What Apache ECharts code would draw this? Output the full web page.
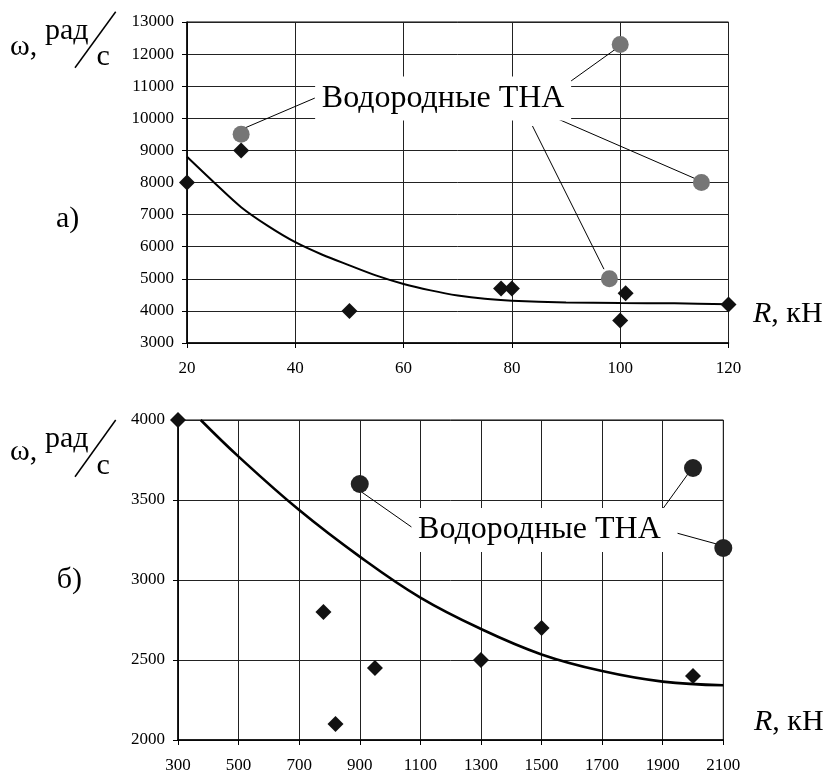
<!DOCTYPE html>
<html>
<head>
<meta charset="utf-8">
<script src="https://cdn.jsdelivr.net/npm/echarts@6/dist/echarts.min.js"></script>
<style>
html,body{margin:0;padding:0;background:#fff;}
#c{width:829px;height:775px;}
</style>
</head>
<body>
<div id="c"></div>
<script>
// ---- Chart a) ----
const topXTicks = [20, 40, 60, 80, 100, 120];
const topYTicks = [3000, 4000, 5000, 6000, 7000, 8000, 9000, 10000, 11000, 12000, 13000];
const topDiamondR = [20, 30, 50, 78, 80, 100, 101, 120];
const topDiamondW = [8000, 9000, 4000, 4700, 4700, 3700, 4550, 4200];
const topCircleR = [30, 98, 100, 115];
const topCircleW = [9500, 5000, 12300, 8000];
const topTrendR = [20, 25, 30, 35, 40, 45, 50, 55, 60, 65, 70, 75, 80, 90, 100, 110, 120];
const topTrendW = [8800, 8000, 7230, 6640, 6140, 5750, 5420, 5100, 4840, 4640, 4480, 4375, 4320, 4265, 4245, 4235, 4210];
const topLabelAt = [67.3, 10617];
const topLeaderFrom = [[30.7, 9700], [88.75, 10900], [88.6, 9970], [83.8, 9760]];
const topLeaderTo = [[43.6, 10630], [99.35, 12180], [114.4, 8080], [97.0, 5300]];

// ---- Chart б) ----
const botXTicks = [300, 500, 700, 900, 1100, 1300, 1500, 1700, 1900, 2100];
const botYTicks = [2000, 2500, 3000, 3500, 4000];
const botDiamondR = [300, 780, 820, 950, 1300, 1500, 2000];
const botDiamondW = [4000, 2800, 2100, 2450, 2500, 2700, 2400];
const botCircleR = [900, 2000, 2100];
const botCircleW = [3600, 3700, 3200];
const botTrendR = [375, 500, 700, 900, 1100, 1300, 1500, 1700, 1900, 2100];
const botTrendW = [4000, 3771, 3437, 3146, 2890, 2694, 2535, 2431, 2365, 2342];
const botLabelAt = [1493, 3312];
const botLeaderFrom = [[906, 3550], [1892, 3423], [1949, 3292]];
const botLeaderTo = [[1077, 3323], [1993, 3688], [2078, 3225]];

const labelText = 'Водородные ТНА';
const SERIF = '"Liberation Serif", "DejaVu Serif", serif';

function zip(a, b) { return a.map((v, i) => [v, b[i]]); }
function leaders(from, to) { return from.map((f, i) => [{ coord: f }, { coord: to[i] }]); }
const plain = v => String(v);

function xAx(gi, ticks, interval) {
  return {
    type: 'value', gridIndex: gi, min: ticks[0], max: ticks[ticks.length - 1], interval: interval,
    axisLine: { show: true, onZero: false, lineStyle: { color: '#000', width: 1.5 } },
    axisTick: { show: true, inside: false, length: 5, lineStyle: { color: '#000', width: 1 } },
    axisLabel: { fontSize: 17, fontFamily: SERIF, color: '#000', margin: 17, formatter: plain },
    splitLine: { show: true, lineStyle: { color: '#222', width: 1 } }
  };
}
function yAx(gi, ticks, interval) {
  return {
    type: 'value', gridIndex: gi, min: ticks[0], max: ticks[ticks.length - 1], interval: interval,
    axisLine: { show: true, onZero: false, lineStyle: { color: '#000', width: 1.5 } },
    axisTick: { show: true, inside: false, length: 5, lineStyle: { color: '#000', width: 1 } },
    axisLabel: { fontSize: 17, fontFamily: SERIF, color: '#000', margin: 13, formatter: plain },
    splitLine: { show: true, lineStyle: { color: '#222', width: 1 } }
  };
}

function annotate(labelAt, from, to) {
  return {
    markLine: {
      silent: true, animation: false, symbol: ['none', 'none'],
      label: { show: false },
      lineStyle: { type: 'solid', color: '#000', width: 1 },
      data: leaders(from, to)
    },
    markPoint: {
      silent: true, animation: false,
      symbol: 'rect', symbolSize: [256, 44],
      itemStyle: { color: '#fff' },
      label: { show: true, position: 'inside', formatter: labelText, color: '#000', fontSize: 32, fontFamily: SERIF },
      data: [{ coord: labelAt }]
    }
  };
}

const chart = echarts.init(document.getElementById('c'), null, { renderer: 'canvas' });

const topTrend = Object.assign({
  type: 'line', xAxisIndex: 0, yAxisIndex: 0, data: zip(topTrendR, topTrendW),
  showSymbol: false, symbol: 'none', smooth: 0.3,
  lineStyle: { color: '#000', width: 2 }, z: 3, silent: true
}, annotate(topLabelAt, topLeaderFrom, topLeaderTo));

const botTrend = Object.assign({
  type: 'line', xAxisIndex: 1, yAxisIndex: 1, data: zip(botTrendR, botTrendW),
  showSymbol: false, symbol: 'none', smooth: 0.4,
  lineStyle: { color: '#000', width: 2.6 }, z: 3, silent: true
}, annotate(botLabelAt, botLeaderFrom, botLeaderTo));

const ucStyle = { fill: '#000', font: '30px ' + SERIF, textVerticalAlign: 'middle' };
function txt(text, x, y) {
  return { type: 'text', style: Object.assign({ text: text, x: x, y: y }, ucStyle) };
}
function unitGroup(ω, p, c, s1, s2) {
  return [
    txt('ω,', 10, ω),
    txt('рад', 45, p),
    txt('с', 96.5, c),
    { type: 'line', shape: { x1: s1[0], y1: s1[1], x2: s2[0], y2: s2[1] }, style: { stroke: '#000', lineWidth: 1.5 } }
  ];
}
function rLabel(x, y) {
  return {
    type: 'text',
    style: {
      x: x, y: y, textVerticalAlign: 'middle',
      text: '{i|R}, кН',
      rich: { i: { fontStyle: 'italic', fontSize: 30, fontFamily: SERIF, fill: '#000' } },
      font: '30px ' + SERIF, fill: '#000'
    }
  };
}

function scatter(ax, data, sym, size, color) {
  return { type: 'scatter', xAxisIndex: ax, yAxisIndex: ax, data: data, symbol: sym, symbolSize: size,
    itemStyle: { color: color, opacity: 1 }, z: 5, clip: false, silent: true };
}

chart.setOption({
  animation: false,
  backgroundColor: '#fff',
  grid: [
    { left: 187, top: 22, width: 541.5, height: 321, show: true, borderColor: '#000', borderWidth: 1 },
    { left: 178, top: 420, width: 545.3, height: 320, show: true, borderColor: '#000', borderWidth: 1 }
  ],
  xAxis: [xAx(0, topXTicks, 20), xAx(1, botXTicks, 200)],
  yAxis: [yAx(0, topYTicks, 1000), yAx(1, botYTicks, 500)],
  series: [
    topTrend,
    scatter(0, zip(topDiamondR, topDiamondW), 'diamond', 16, '#111'),
    scatter(0, zip(topCircleR, topCircleW), 'circle', 17, '#767676'),
    botTrend,
    scatter(1, zip(botDiamondR, botDiamondW), 'diamond', 16, '#111'),
    scatter(1, zip(botCircleR, botCircleW), 'circle', 18, '#222')
  ],
  graphic: [].concat(
    unitGroup(47, 31, 57.5, [75, 67.7], [115.7, 11.7]),
    [txt('а)', 56, 219)],
    [rLabel(753, 314)],
    unitGroup(452.5, 439.5, 466, [75, 476.7], [115.7, 420]),
    [txt('б)', 56.7, 580)],
    [rLabel(754, 722.5)]
  )
});
</script>
</body>
</html>
